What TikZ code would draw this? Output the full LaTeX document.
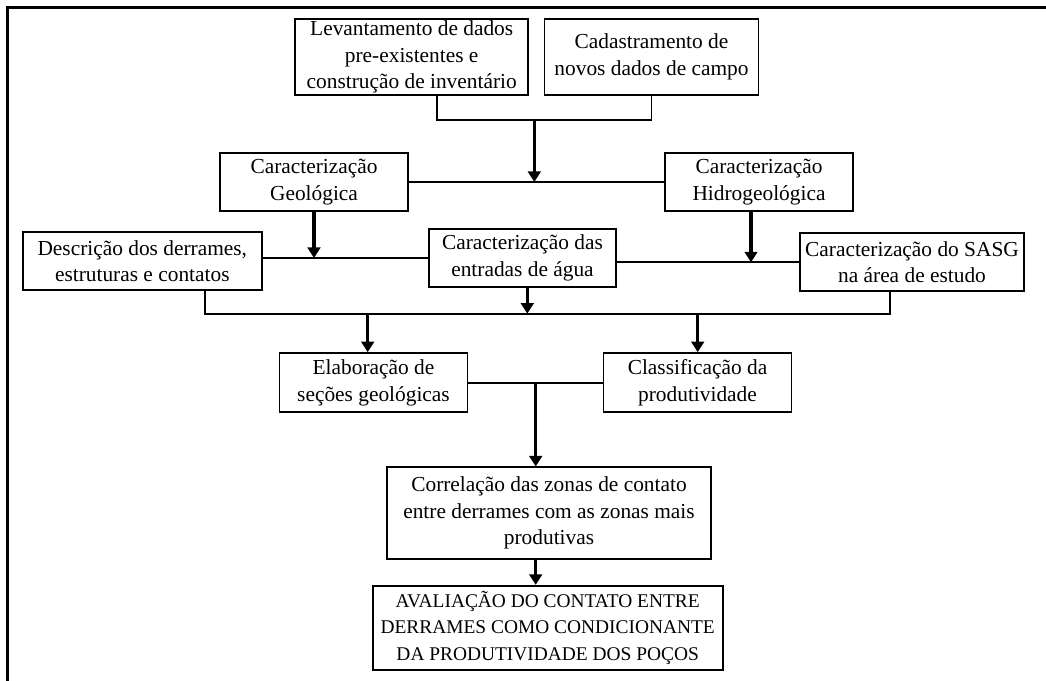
\documentclass[tikz,border=0pt]{standalone}
\usepackage{fontspec}
\setmainfont{Liberation Serif}
\usetikzlibrary{arrows.meta,calc}

\begin{document}
\begin{tikzpicture}[x=0.025cm,y=-0.025cm,
    box/.style={draw,line width=1.3pt,align=center,inner sep=1pt,
        font=\fontsize{15.2}{18.8}\selectfont},
    link/.style={line width=1.2pt},
    flow/.style={line width=2.2pt,-{Triangle[length=7.5pt,width=9pt]}}
]
\useasboundingbox (0,0) rectangle (1046,681);

% outer frame (top and left only)
\draw[line width=2pt] (7.5,681) -- (7.5,7.5) -- (1046,7.5);

% nodes
\node[box,minimum width=5.83cm,minimum height=1.9cm]  (lev)  at (411.7,57)   {Levantamento de dados\\pre-existentes e\\construção de inventário};
\node[box,minimum width=5.35cm,minimum height=1.9cm]  (cad)  at (651.5,57)   {Cadastramento de\\novos dados de campo};
\node[box,minimum width=4.68cm,minimum height=1.45cm] (geo)  at (314,182)    {Caracterização\\Geológica};
\node[box,minimum width=4.68cm,minimum height=1.45cm] (hid)  at (759,182)    {Caracterização\\Hidrogeológica};
\node[box,minimum width=5.98cm,minimum height=1.45cm] (desc) at (142.3,261)  {Descrição dos derrames,\\estruturas e contatos};
\node[box,minimum width=4.68cm,minimum height=1.45cm] (ent)  at (522.5,258)  {Caracterização das\\entradas de água};
\node[box,minimum width=5.6cm,minimum height=1.45cm]  (sasg) at (912,262.3)  {Caracterização do SASG\\na área de estudo};
\node[box,minimum width=4.7cm,minimum height=1.48cm]  (elab) at (373.5,382.7) {Elaboração de\\seções geológicas};
\node[box,minimum width=4.7cm,minimum height=1.48cm]  (cla)  at (697.5,382.7) {Classificação da\\produtividade};
\node[box,minimum width=8.08cm,minimum height=2.28cm] (corr) at (549,513)    {Correlação das zonas de contato\\entre derrames com as zonas mais\\produtivas};
\node[box,minimum width=8.75cm,minimum height=2.1cm,font=\fontsize{13.8}{18.8}\selectfont]
    (aval) at (547.7,627.8) {AVALIAÇÃO DO CONTATO ENTRE\\DERRAMES COMO CONDICIONANTE\\DA PRODUTIVIDADE DOS POÇOS};

% junction points
\coordinate (j1) at (534.3,120);
\coordinate (j2) at (367.7,313.7);
\coordinate (j3) at (697.7,313.7);
\coordinate (j4) at (535.7,382.3);
\coordinate (levout)  at ($(lev.south)+(25,0)$);
\coordinate (hidout)  at ($(hid.south)+(-8,0)$);
\coordinate (descout) at ($(desc.south)+(62.7,0)$);
\coordinate (sasgout) at ($(sasg.south)+(-22,0)$);
\coordinate (entout)  at ($(ent.south)+(4.8,0)$);

% first level
\draw[link] (levout) |- (j1) -| (cad.south);
\draw[flow] (j1) -- (j1 |- geo.east);
\draw[link] (geo.east) -- (hid.west);

% second level
\draw[link] (desc.east |- ent.west) -- (ent.west);
\draw[flow] (geo.south) -- (geo.south |- ent.west);
\draw[link] (ent.east |- sasg.west) -- (sasg.west);
\draw[flow] (hidout) -- (hidout |- sasg.west);

% third level
\draw[link] (descout) |- (j2) -- (j3) -| (sasgout);
\draw[flow] (entout) -- (entout |- j2);
\draw[flow] (j2) -- (j2 |- elab.north);
\draw[flow] (j3) -- (j3 |- cla.north);

% fourth level
\draw[link] (elab.east) -- (cla.west);
\draw[flow] (j4) -- (j4 |- corr.north);
\draw[flow] (j4 |- corr.south) -- (j4 |- aval.north);

\end{tikzpicture}
\end{document}
